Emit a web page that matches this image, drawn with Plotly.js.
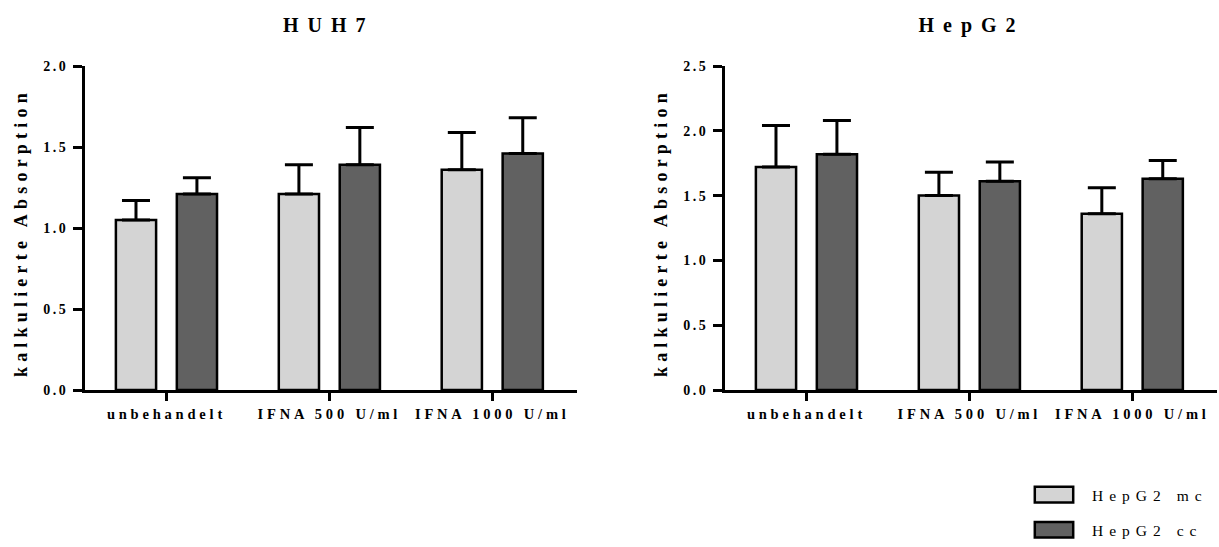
<!DOCTYPE html>
<html>
<head>
<meta charset="utf-8">
<script src="https://cdn.plot.ly/plotly-3.0.1.min.js"></script>
<style>
  html, body { margin: 0; padding: 0; background: #fff; }
  #chart { width: 1219px; height: 547px; }
  .xtick text, .x2tick text { letter-spacing: 3.8px; }
  .ytick text, .y2tick text { letter-spacing: 2.5px; }
  .legendtext { letter-spacing: 6px; }
  .legend .scrollbox { clip-path: none !important; }
  .legendpoints path { transform: translate(26px, 0px) scale(3.2, 1.3); vector-effect: non-scaling-stroke; }
</style>
</head>
<body>
<div id="chart"></div>
<script>
// ---- data ----
const categories = ['unbehandelt', 'IFNA 500 U/ml', 'IFNA 1000 U/ml'];
const seriesNames = ['HepG2 mc', 'HepG2 cc'];
const panelTitles = ['HUH7', 'HepG2'];
const yTitle = 'kalkulierte Absorption';

const huh7_mc = [1.05, 1.21, 1.36];
const huh7_mc_err = [0.12, 0.18, 0.23];
const huh7_cc = [1.21, 1.39, 1.46];
const huh7_cc_err = [0.10, 0.23, 0.22];

const hepg2_mc = [1.72, 1.50, 1.36];
const hepg2_mc_err = [0.32, 0.18, 0.20];
const hepg2_cc = [1.82, 1.61, 1.63];
const hepg2_cc_err = [0.26, 0.15, 0.14];

const colors = ['#d4d4d4', '#616161'];
const FONT = 'Liberation Serif, Times New Roman, serif';

function barTrace(vals, errs, idx, xa, ya, showLegend) {
  return {
    type: 'bar',
    x: categories,
    y: vals,
    name: seriesNames[idx],
    legendgroup: 'g' + idx,
    showlegend: showLegend,
    xaxis: xa, yaxis: ya,
    marker: { color: colors[idx], line: { color: '#000', width: 2.5 } },
    error_y: {
      type: 'data', array: errs, arrayminus: errs.map(() => 0), symmetric: false,
      visible: true, color: '#000', thickness: 3, width: 14
    },
    hoverinfo: 'x+y'
  };
}

const data = [
  barTrace(huh7_mc, huh7_mc_err, 0, 'x', 'y', true),
  barTrace(huh7_cc, huh7_cc_err, 1, 'x', 'y', true),
  barTrace(hepg2_mc, hepg2_mc_err, 0, 'x2', 'y2', false),
  barTrace(hepg2_cc, hepg2_cc_err, 1, 'x2', 'y2', false)
];

const W = 1219;
const xAxisCommon = {
  type: 'category',
  range: [-0.5, 2.52],
  showline: true, linecolor: '#000', linewidth: 3,
  ticks: 'outside', ticklen: 8, tickwidth: 3, tickcolor: '#000',
  showgrid: false, zeroline: false,
  tickfont: { family: FONT, size: 14.5, color: '#000', weight: 'bold' },
  ticklabelstandoff: 1,
  fixedrange: true
};
const yAxisCommon = {
  showline: true, linecolor: '#000', linewidth: 3,
  ticks: 'outside', ticklen: 9, tickwidth: 3, tickcolor: '#000',
  showgrid: false, zeroline: false,
  dtick: 0.5, tickformat: '.1f',
  tickfont: { family: FONT, size: 14, color: '#000', weight: 'bold' },
  ticklabelstandoff: 2,
  fixedrange: true
};

const layout = {
  width: 1219, height: 547,
  margin: { l: 0, r: 0, t: 66, b: 157 },
  paper_bgcolor: '#fff', plot_bgcolor: '#fff',
  barmode: 'group', bargap: 0.252, bargroupgap: 0.34,
  showlegend: true,
  legend: {
    x: 1028 / W, xanchor: 'left', y: -0.272, yanchor: 'top',
    font: { family: FONT, size: 15.5, color: '#000' },
    traceorder: 'grouped', tracegroupgap: 12, itemwidth: 54,
    bgcolor: 'rgba(0,0,0,0)'
  },
  xaxis: Object.assign({}, xAxisCommon, { domain: [85 / W, 577 / W], anchor: 'y' }),
  yaxis: Object.assign({}, yAxisCommon, { range: [0, 2.0], anchor: 'x' }),
  xaxis2: Object.assign({}, xAxisCommon, { domain: [725 / W, 1217 / W], anchor: 'y2' }),
  yaxis2: Object.assign({}, yAxisCommon, { range: [0, 2.5], anchor: 'x2' }),
  annotations: [
    { text: panelTitles[0], xref: 'paper', yref: 'paper', x: 329 / W, y: 1 + 41 / 324, xanchor: 'center', yanchor: 'middle',
      showarrow: false, font: { family: FONT, size: 20, color: '#000', weight: 'bold' } },
    { text: panelTitles[1], xref: 'paper', yref: 'paper', x: 971 / W, y: 1 + 41 / 324, xanchor: 'center', yanchor: 'middle',
      showarrow: false, font: { family: FONT, size: 20, color: '#000', weight: 'bold' } },
    { text: yTitle, xref: 'paper', yref: 'paper', x: 21 / W, y: 0.485, xanchor: 'center', yanchor: 'middle', textangle: -90,
      showarrow: false, font: { family: FONT, size: 18, color: '#000', weight: 'bold' } },
    { text: yTitle, xref: 'paper', yref: 'paper', x: 661 / W, y: 0.485, xanchor: 'center', yanchor: 'middle', textangle: -90,
      showarrow: false, font: { family: FONT, size: 18, color: '#000', weight: 'bold' } }
  ]
};

Plotly.newPlot('chart', data, layout, { displayModeBar: false, staticPlot: true }).then(function () {
  const anns = document.querySelectorAll('.annotation-text');
  anns.forEach(function (t, i) {
    t.style.letterSpacing = (i < 2) ? '9px' : '5.2px';
  });
});
</script>
</body>
</html>
